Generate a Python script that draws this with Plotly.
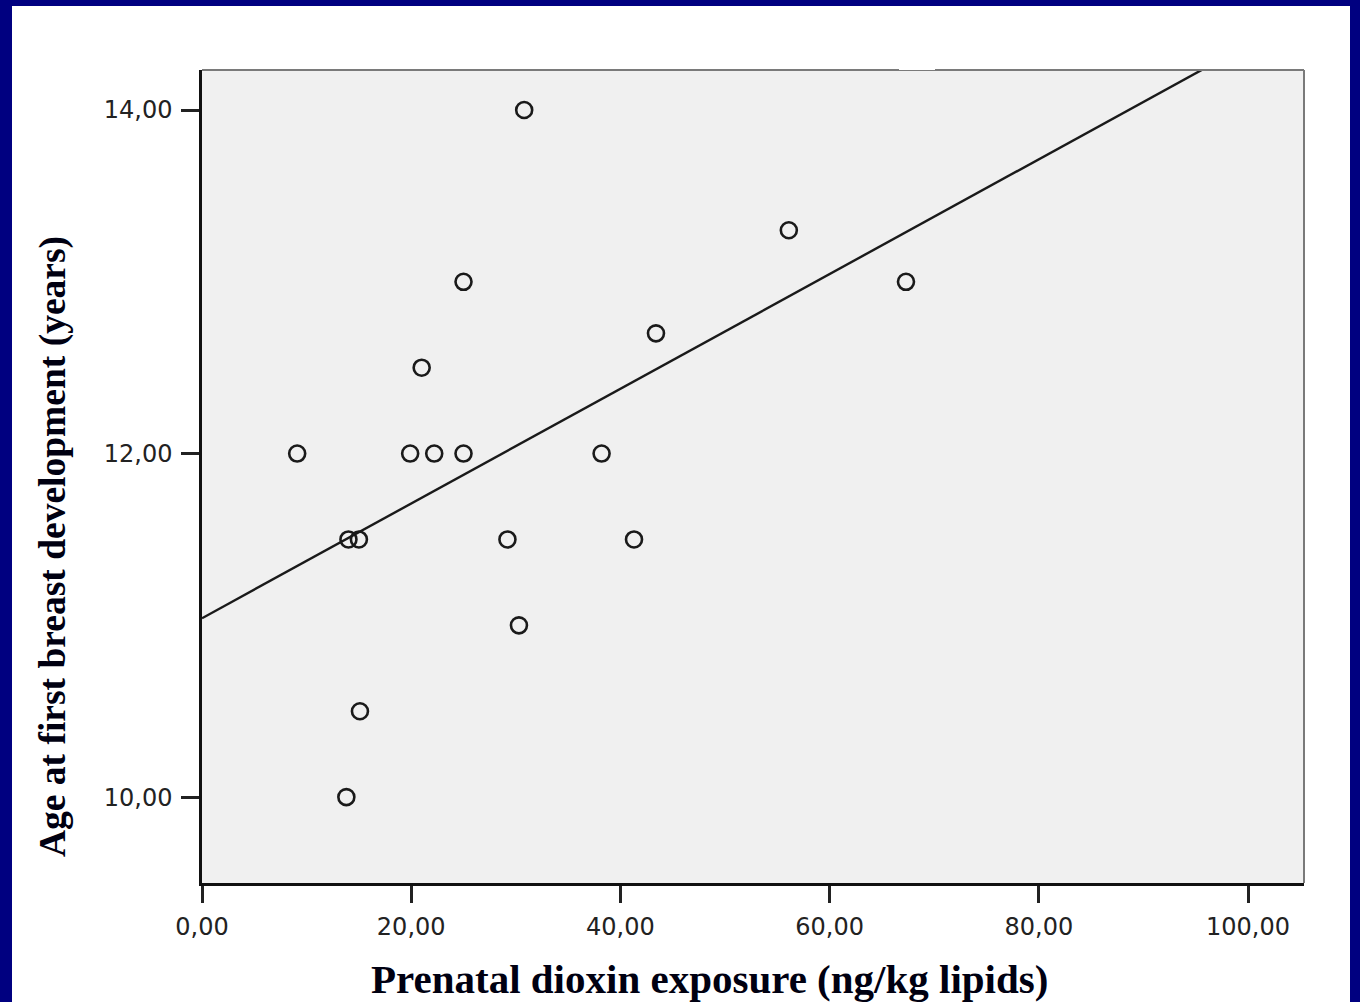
import numpy as np
import plotly.graph_objects as go

# Data
dioxin = [9.1, 30.8, 56.1, 67.3, 25.0, 43.4, 21.0, 19.9, 22.2, 25.0,
          38.2, 14.0, 15.0, 29.2, 41.3, 30.3, 15.1, 13.8]
age = [12.0, 14.0, 13.3, 13.0, 13.0, 12.7, 12.5, 12.0, 12.0, 12.0,
       12.0, 11.5, 11.5, 11.5, 11.5, 11.0, 10.5, 10.0]

x_ticks = [0, 20, 40, 60, 80, 100]
x_ticklabels = ["0,00", "20,00", "40,00", "60,00", "80,00", "100,00"]
y_ticks = [10, 12, 14]
y_ticklabels = ["10,00", "12,00", "14,00"]

x_title = "Prenatal dioxin exposure (ng/kg lipids)"
y_title = "Age at first breast development (years)"

# Linear (OLS) fit line
slope, intercept = np.polyfit(dioxin, age, 1)
x_line = np.array([0.0, 110.0])
y_line = intercept + slope * x_line

fig = go.Figure()
fig.add_trace(go.Scatter(
    x=x_line, y=y_line, mode="lines",
    line=dict(color="#1a1a1a", width=2.4),
    hoverinfo="skip", showlegend=False,
))
fig.add_trace(go.Scatter(
    x=dioxin, y=age, mode="markers",
    marker=dict(symbol="circle-open", size=16, color="#1a1a1a",
                line=dict(width=2.6, color="#1a1a1a")),
    showlegend=False,
))

L, R, T, B = 202, 56, 70, 119
W, H = 1360, 1002
pw, ph = W - L - R, H - T - B

def px(xpix):
    return (xpix - L) / pw

def py(ypix):
    return (H - B - ypix) / ph

shapes = [
    # navy frame around the slide
    dict(type="rect", xref="paper", yref="paper", x0=px(0), x1=px(12), y0=py(1002), y1=py(0),
         fillcolor="#000080", line=dict(width=0), layer="below"),
    dict(type="rect", xref="paper", yref="paper", x0=px(0), x1=px(1360), y0=py(6), y1=py(0),
         fillcolor="#000080", line=dict(width=0), layer="below"),
    dict(type="rect", xref="paper", yref="paper", x0=px(1350), x1=px(1360), y0=py(1002), y1=py(0),
         fillcolor="#000080", line=dict(width=0), layer="below"),
    # grey top/right border of plot area
    dict(type="line", xref="paper", yref="paper", x0=0, x1=1, y0=1, y1=1,
         line=dict(color="#7a7a7a", width=2), layer="above"),
    dict(type="line", xref="paper", yref="paper", x0=1, x1=1, y0=0, y1=1,
         line=dict(color="#7a7a7a", width=2), layer="above"),
    # small white gap in the top border
    dict(type="line", xref="paper", yref="paper", x0=px(899), x1=px(935), y0=py(69), y1=py(69),
         line=dict(color="#ffffff", width=2), layer="above"),
]

tickfont = dict(family="DejaVu Sans", size=24, color="#222222")
xtitlefont = dict(family="Liberation Serif", size=41, color="#000011", weight="bold")
ytitlefont = dict(family="Liberation Serif", size=37.5, color="#000011", weight="bold")

fig.update_layout(
    width=W, height=H,
    margin=dict(l=L, r=R, t=T, b=B),
    paper_bgcolor="#ffffff",
    plot_bgcolor="#f0f0f0",
    shapes=shapes,
    xaxis=dict(
        range=[0, 105.35], tickmode="array", tickvals=x_ticks, ticktext=x_ticklabels,
        showgrid=False, zeroline=False, showline=True, linecolor="#111111", linewidth=2.5,
        ticks="outside", ticklen=17, tickwidth=2.5, tickcolor="#222222",
        tickfont=tickfont, ticklabelstandoff=3,
    ),
    yaxis=dict(
        range=[9.5, 14.233], tickmode="array", tickvals=y_ticks, ticktext=y_ticklabels,
        showgrid=False, zeroline=False, showline=True, linecolor="#111111", linewidth=2.5,
        ticks="outside", ticklen=18, tickwidth=2.5, tickcolor="#222222",
        tickfont=tickfont, ticklabelstandoff=4,
    ),
    annotations=[
        dict(text=x_title, xref="paper", yref="paper", x=px(709), y=py(979),
             showarrow=False, xanchor="center", yanchor="middle", font=xtitlefont),
        dict(text=y_title, xref="paper", yref="paper", x=px(53), y=py(547),
             showarrow=False, xanchor="center", yanchor="middle", textangle=-90, font=ytitlefont),
    ],
)

fig.write_html(
    "out.html",
    config={"displayModeBar": False},
    post_script="document.body.style.margin='0';document.body.style.overflow='hidden';",
)
